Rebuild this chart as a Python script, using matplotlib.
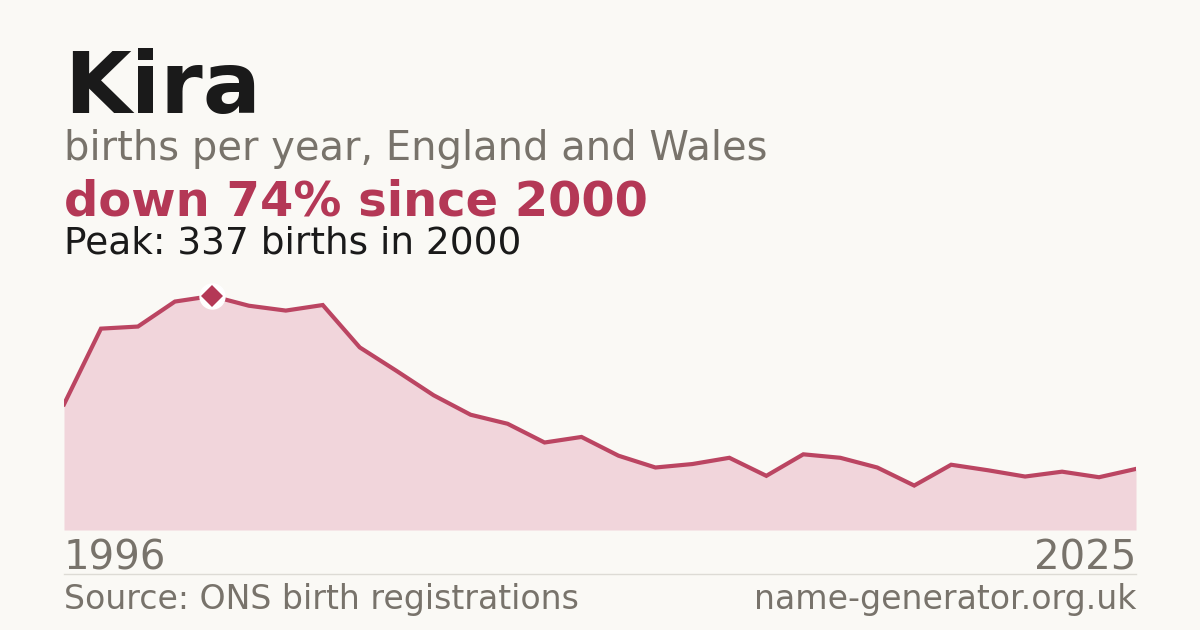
import matplotlib
matplotlib.use("Agg")
import matplotlib.pyplot as plt

years = list(range(1996, 2026))
births = [181, 290, 293, 329, 337, 323, 316, 324, 263, 229,
          194, 166, 153, 126, 134, 107, 90, 95, 104, 78,
          109, 104, 90, 64, 94, 86, 77, 84, 76, 88]

name = "Kira"
subtitle = "births per year, England and Wales"
change_text = "down 74% since 2000"
peak_text = "Peak: 337 births in 2000"
source_text = "Source: ONS birth registrations"
site_text = "name-generator.org.uk"

BG = "#faf9f5"
RED = "#b43856"
LINE = "#bb4562"
FILL = "#f1d5db"
GRAY = "#78736b"
DARK = "#1a1a1a"

W, H = 1200, 630
plt.rcParams['font.family'] = ['DejaVu Sans']
fig = plt.figure(figsize=(W / 100, H / 100), dpi=100, facecolor=BG)

def px(x, y):
    return x / W, 1 - y / H

ax = fig.add_axes([64 / W, 1 - 530 / H, (1136 - 64) / W, (530 - 280) / H])
ax.set_facecolor(BG)
ax.patch.set_alpha(0)
peak_val = max(births)
ax.set_xlim(years[0], years[-1])
ax.set_ylim(0, peak_val * 250 / 234)
ax.fill_between(years, births, 0, color=FILL, lw=0, zorder=1)
ax.plot(years, births, color=LINE, lw=3.0, solid_joinstyle='miter', zorder=2)
pi = births.index(peak_val)
ax.plot([years[pi]], [births[pi]], marker='o', ms=18, color='white', mec='white', zorder=3, clip_on=False)
ax.plot([years[pi]], [births[pi]], marker='D', ms=11, color=RED, mec=RED, mew=0, zorder=4, clip_on=False)
ax.axis('off')

fig.text(*px(64, 113), name, fontsize=62, fontweight='bold', color=DARK, va='baseline', ha='left')
fig.text(*px(64, 160), subtitle, fontsize=28.8, color=GRAY, va='baseline', ha='left')
fig.text(*px(64, 215), change_text, fontsize=34.6, fontweight='bold', color=RED, va='baseline', ha='left')
fig.text(*px(64, 254), peak_text, fontsize=27, color=DARK, va='baseline', ha='left')

fig.text(*px(64, 570), str(years[0]), fontsize=29, color=GRAY, va='baseline', ha='left')
fig.text(*px(1136, 570), str(years[-1]), fontsize=29, color=GRAY, va='baseline', ha='right')

line = plt.Line2D([64 / W, 1136 / W], [1 - 574 / H, 1 - 574 / H], color="#dddbd5", lw=1, transform=fig.transFigure)
fig.add_artist(line)

fig.text(*px(64, 609), source_text, fontsize=23.9, color=GRAY, va='baseline', ha='left')
fig.text(*px(1136, 609), site_text, fontsize=23.9, color=GRAY, va='baseline', ha='right')

fig.savefig("out.png", dpi=100, facecolor=BG)
